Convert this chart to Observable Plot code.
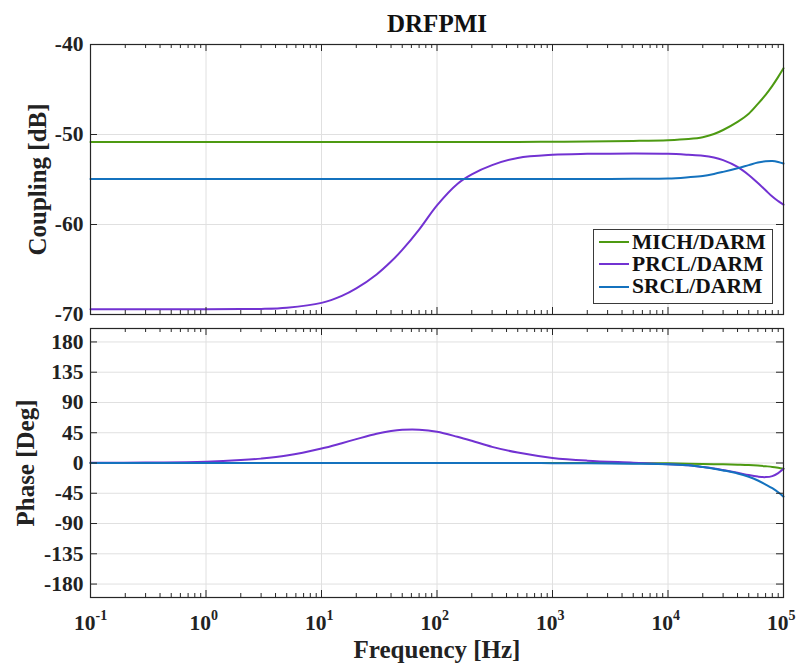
<!DOCTYPE html>
<html>
<head>
<meta charset="utf-8">
<script src="https://cdn.jsdelivr.net/npm/d3@7"></script>
<script src="https://cdn.jsdelivr.net/npm/@observablehq/plot@0.6"></script>
<style>
  html, body { margin: 0; padding: 0; background: white; }
  #wrap { position: relative; width: 800px; height: 663px; }
  #wrap svg { display: block; }
  .legend { position: absolute; left: 593px; top: 229px; width: 180px; height: 75px;
    border: 1px solid #3a3a3a; background: white; box-sizing: border-box; padding-top: 1px;
    font-family: "Liberation Serif", "Times New Roman", serif; font-weight: bold; font-size: 21.5px; color: #111; }
  .legend .row { display: flex; align-items: center; height: 22.3px; }
  .legend .sw { width: 30px; height: 2px; margin-left: 5px; margin-right: 3px; }
</style>
</head>
<body>
<div id="wrap"></div>
<script>
const FONT = "'Liberation Serif', 'Times New Roman', serif";
const AX = "#262626";
const GRID = "#e0e0e0";

// ---- data ----
const seriesNames = ["MICH/DARM", "PRCL/DARM", "SRCL/DARM"];
const seriesColors = ["#4d9a12", "#7232d2", "#1472be"];

const freq = [0.1, 0.3, 1, 2, 3, 5, 10, 15, 20, 30, 40, 50, 70, 100, 150, 200, 300, 500,
  1000, 2000, 5000, 10000, 15000, 20000, 25000, 30000, 40000, 50000, 60000, 70000, 80000, 90000, 100000];

const magMICH = [-50.82, -50.82, -50.82, -50.82, -50.82, -50.82, -50.82, -50.82, -50.82, -50.82, -50.82, -50.82, -50.82, -50.82, -50.82, -50.82, -50.82, -50.82,
  -50.81, -50.79, -50.72, -50.63, -50.5, -50.3, -49.95, -49.5, -48.6, -47.7, -46.6, -45.6, -44.6, -43.6, -42.65];
const magPRCL = [-69.42, -69.42, -69.42, -69.4, -69.38, -69.25, -68.71, -67.93, -67.1, -65.55, -64.12, -62.82, -60.56, -57.87, -55.49, -54.43, -53.4, -52.6,
  -52.25, -52.15, -52.12, -52.15, -52.25, -52.35, -52.55, -52.85, -53.6, -54.5, -55.4, -56.2, -56.9, -57.4, -57.8];
const magSRCL = [-54.95, -54.95, -54.95, -54.95, -54.95, -54.95, -54.95, -54.95, -54.95, -54.95, -54.95, -54.95, -54.95, -54.95, -54.95, -54.95, -54.95, -54.95,
  -54.95, -54.95, -54.93, -54.9, -54.75, -54.6, -54.38, -54.15, -53.75, -53.4, -53.12, -52.98, -52.94, -53.05, -53.23];

const phMICH = [0, 0, 0, 0, 0, 0, 0, 0, 0, 0, 0, 0, 0, 0, 0, 0, 0, 0,
  0, 0, -0.2, -0.5, -1.0, -1.5, -1.8, -2.0, -2.5, -3.0, -3.8, -4.8, -5.8, -7.2, -8.7];
const phPRCL = [0.2, 0.7, 2.0, 4.3, 6.5, 11, 21.5, 29.5, 35.5, 43.5, 47.5, 49.3, 49.5, 46.5, 39, 33, 24, 15.5,
  7.6, 3.5, 0.5, -1.8, -3.5, -6.0, -8.2, -10.5, -14.5, -18, -20.2, -21, -19.5, -15, -8.7];
const phSRCL = [0, 0, 0, 0, 0, 0, 0, 0, 0, 0, 0, 0, 0, 0, 0, 0, 0, 0,
  -0.2, -0.5, -1.0, -1.8, -3.5, -6.0, -8.5, -11, -15.5, -20.5, -26, -32, -37.5, -43.5, -50];

const decades = [0.1, 1, 10, 100, 1000, 10000, 100000];
const decadeExp = ["-1", "0", "1", "2", "3", "4", "5"];
const magTicks = [-70, -60, -50, -40];
const phaseTicks = [-180, -135, -90, -45, 0, 45, 90, 135, 180];

// ---- tables ----
function table(vals) {
  const rows = [];
  vals.forEach((arr, si) => arr.forEach((v, i) => rows.push({series: seriesNames[si], f: freq[i], v})));
  return rows;
}
const magData = table([magMICH, magPRCL, magSRCL]);
const phData = table([phMICH, phPRCL, phSRCL]);
const minorTicks = decades.slice(0, -1).flatMap(d => [2, 3, 4, 5, 6, 7, 8, 9].map(m => m * d));

const W = 800, ML = 90, MR = 17;
const innerW = W - ML - MR;

function frameTicks(innerH, yTicks) {
  return [
    Plot.tickX(decades, {x: d => d, stroke: AX, insetTop: innerH - 7}),
    Plot.tickX(decades, {x: d => d, stroke: AX, insetBottom: innerH - 7}),
    Plot.tickX(minorTicks, {x: d => d, stroke: AX, insetTop: innerH - 4}),
    Plot.tickX(minorTicks, {x: d => d, stroke: AX, insetBottom: innerH - 4}),
    Plot.tickY(yTicks, {y: d => d, stroke: AX, insetRight: innerW - 7}),
    Plot.tickY(yTicks, {y: d => d, stroke: AX, insetLeft: innerW - 7})
  ];
}

function lines(data) {
  return seriesNames.map(s => Plot.line(data.filter(d => d.series === s), {
    x: "f", y: "v", stroke: "series", strokeWidth: 2, curve: "catmull-rom"
  }));
}

const tickFmt = d => String(d);

const topH = 320, topMT = 44, topMB = 6;
const magPlot = Plot.plot({
  width: W, height: topH,
  marginLeft: ML, marginRight: MR, marginTop: topMT, marginBottom: topMB,
  style: {fontFamily: FONT, background: "white", overflow: "visible"},
  x: {type: "log", domain: [0.1, 1e5], axis: null},
  y: {domain: [-70, -40]},
  color: {domain: seriesNames, range: seriesColors},
  marks: [
    Plot.gridX(decades, {stroke: GRID, strokeOpacity: 1}),
    Plot.gridY(magTicks, {stroke: GRID, strokeOpacity: 1}),
    ...lines(magData),
    ...frameTicks(topH - topMT - topMB, magTicks),
    Plot.frame({stroke: AX, strokeWidth: 1.2}),
    Plot.axisY(magTicks, {tickSize: 0, tickPadding: 7, tickFormat: tickFmt, fontSize: 21.5, fontWeight: "bold", label: null, fill: "#222"}),
    Plot.text(["Coupling [dB]"], {frameAnchor: "left", textAnchor: "middle", rotate: -90, dx: -53, fontSize: 25, fontWeight: "bold", fill: "#222"}),
    Plot.text(["DRFPMI"], {frameAnchor: "top", lineAnchor: "bottom", dy: -13, fontSize: 25, fontWeight: "bold", fill: "#111"})
  ]
});

const botH = 343, botMT = 8, botMB = 66;
const phasePlot = Plot.plot({
  width: W, height: botH,
  marginLeft: ML, marginRight: MR, marginTop: botMT, marginBottom: botMB,
  style: {fontFamily: FONT, background: "white", overflow: "visible"},
  x: {type: "log", domain: [0.1, 1e5], axis: null},
  y: {domain: [-200, 200]},
  color: {domain: seriesNames, range: seriesColors},
  marks: [
    Plot.gridX(decades, {stroke: GRID, strokeOpacity: 1}),
    Plot.gridY(phaseTicks, {stroke: GRID, strokeOpacity: 1}),
    ...lines(phData),
    ...frameTicks(botH - botMT - botMB, phaseTicks),
    Plot.frame({stroke: AX, strokeWidth: 1.2}),
    Plot.axisY(phaseTicks, {tickSize: 0, tickPadding: 7, tickFormat: tickFmt, fontSize: 21.5, fontWeight: "bold", label: null, fill: "#222"}),
    Plot.text(decades, {x: d => d, text: () => "10", frameAnchor: "bottom", lineAnchor: "bottom", textAnchor: "end", dx: 5, dy: 32, fontSize: 21.5, fontWeight: "bold", fill: "#222"}),
    Plot.text(decades, {x: d => d, text: (d, i) => decadeExp[i], frameAnchor: "bottom", lineAnchor: "bottom", textAnchor: "start", dx: 5, dy: 22, fontSize: 14, fontWeight: "bold", fill: "#222"}),
    Plot.text(["Frequency [Hz]"], {frameAnchor: "bottom", lineAnchor: "bottom", dy: 60, fontSize: 25, fontWeight: "bold", fill: "#222"}),
    Plot.text(["Phase [Deg]"], {frameAnchor: "left", textAnchor: "middle", rotate: -90, dx: -65, fontSize: 25, fontWeight: "bold", fill: "#222"})
  ]
});

const wrap = document.getElementById("wrap");
wrap.appendChild(magPlot);
wrap.appendChild(phasePlot);

const legend = document.createElement("div");
legend.className = "legend";
seriesNames.forEach((s, i) => {
  const row = document.createElement("div");
  row.className = "row";
  const sw = document.createElement("div");
  sw.className = "sw";
  sw.style.background = seriesColors[i];
  const t = document.createElement("span");
  t.textContent = s;
  row.appendChild(sw);
  row.appendChild(t);
  legend.appendChild(row);
});
wrap.appendChild(legend);
</script>
</body>
</html>
